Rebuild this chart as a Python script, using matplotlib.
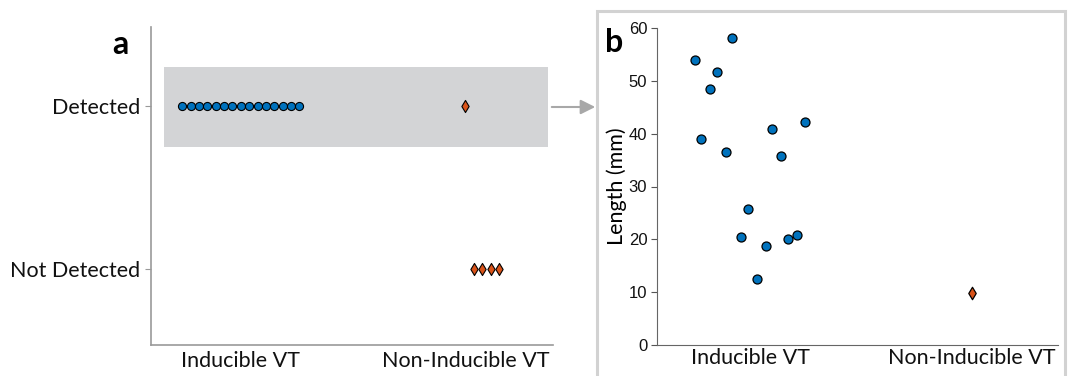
import matplotlib.pyplot as plt
from matplotlib.patches import Rectangle, FancyArrowPatch

# panel a: detection by group
groups = ['Inducible VT', 'Non-Inducible VT']
det_labels = ['Not Detected', 'Detected']
inducible_detected = 15
noninducible_detected = 1
noninducible_not_detected = 4
# swarm offsets (category units)
ind_det_offsets = [-7, -6, -5, -4, -3, -2, -1, 0, 1, 2, 3, 4, 5, 6, 7]
non_det_offsets = [0]
non_notdet_offsets = [1, 2, 3, 4]

# panel b: length of detected VT (mm)
ind_length = [54.0, 58.2, 51.7, 48.5, 38.9, 36.6, 40.8, 35.7, 42.2,
              25.8, 20.5, 18.8, 12.4, 20.1, 20.8]
ind_jitter = [-0.25, -0.08, -0.15, -0.18, -0.22, -0.11, 0.10, 0.14, 0.25,
              -0.01, -0.04, 0.07, 0.03, 0.17, 0.21]
non_length = [9.8]
non_jitter = [0.0]

blue = '#0072BD'
orange = '#D95319'
W, H = 1072, 376
fig = plt.figure(figsize=(W / 100, H / 100), dpi=100)
font = 'Lato'
step = 0.0373

# ---- panel a
axa = fig.add_axes([151 / W, 31 / H, 402 / W, 318 / H])
axa.set_xlim(0.6, 2.39)
axa.set_ylim(-0.466, 1.485)
axa.add_patch(Rectangle((0.658, 0.748), 2.369 - 0.658, 1.24 - 0.748,
                        facecolor='#d3d4d6', edgecolor='none', zorder=0))
axa.scatter([1 + k * step for k in ind_det_offsets], [1] * inducible_detected,
            s=34, marker='o', color=blue, edgecolor='black', linewidth=0.8, zorder=3)
axa.scatter([2 + k * step for k in non_det_offsets], [1] * noninducible_detected,
            s=38, marker='d', color=orange, edgecolor='black', linewidth=0.8, zorder=3)
axa.scatter([2 + k * step for k in non_notdet_offsets], [0] * noninducible_not_detected,
            s=38, marker='d', color=orange, edgecolor='black', linewidth=0.8, zorder=3)
axa.set_xticks([1, 2])
axa.set_xticklabels(groups, fontsize=15.5, family=font, color='#111111')
axa.set_yticks([0, 1])
axa.set_yticklabels(det_labels, fontsize=15.5, family=font, color='#111111')
axa.tick_params(axis='x', length=0, pad=4)
axa.tick_params(axis='y', length=4, color='#999999', pad=4)
for s in ['top', 'right']:
    axa.spines[s].set_visible(False)
for s in ['left', 'bottom']:
    axa.spines[s].set_color('#999999')
    axa.spines[s].set_linewidth(1.2)
fig.text(120 / W, 1 - 45 / H, 'a', fontsize=23, fontweight='bold', family=font,
         ha='center', va='center')

# arrow from box to panel b
fig.patches.append(FancyArrowPatch((549 / W, 1 - 107 / H), (598 / W, 1 - 107 / H),
                                   transform=fig.transFigure, arrowstyle='-|>',
                                   mutation_scale=22, color='#a8a8a8', linewidth=1.5))

# frame around panel b
fig.patches.append(Rectangle((597 / W, -0.05), (1065 - 597) / W, 1.05 - 11 / H,
                             transform=fig.transFigure, fill=False,
                             edgecolor='#d2d2d2', linewidth=2.2))

# ---- panel b
axb = fig.add_axes([657 / W, 31 / H, 401 / W, 317 / H])
axb.set_xlim(0.58, 2.39)
axb.set_ylim(0, 60)
axb.scatter([1 + j for j in ind_jitter], ind_length, s=42, marker='o',
            color=blue, edgecolor='black', linewidth=0.9, zorder=3)
axb.scatter([2 + j for j in non_jitter], non_length, s=40, marker='d',
            color=orange, edgecolor='black', linewidth=0.9, zorder=3)
axb.set_xticks([1, 2])
axb.set_xticklabels(groups, fontsize=15.5, family=font, color='#111111')
axb.tick_params(axis='x', length=0, pad=2)
axb.set_yticks([0, 10, 20, 30, 40, 50, 60])
axb.tick_params(axis='y', length=4, color='#555555', labelsize=12, pad=3)
for lab in axb.get_yticklabels():
    lab.set_family('Liberation Sans')
    lab.set_color('#111111')
axb.set_ylabel('Length (mm)', fontsize=15.5, family=font)
axb.yaxis.set_label_coords((617 - 657) / 401, 0.5)
axb.yaxis.label.set_va('center')
for s in ['top', 'right']:
    axb.spines[s].set_visible(False)
for s in ['left', 'bottom']:
    axb.spines[s].set_color('#666666')
fig.text(614 / W, 1 - 43 / H, 'b', fontsize=23, fontweight='bold', family=font,
         ha='center', va='center')

fig.savefig('out.png', dpi=100)
